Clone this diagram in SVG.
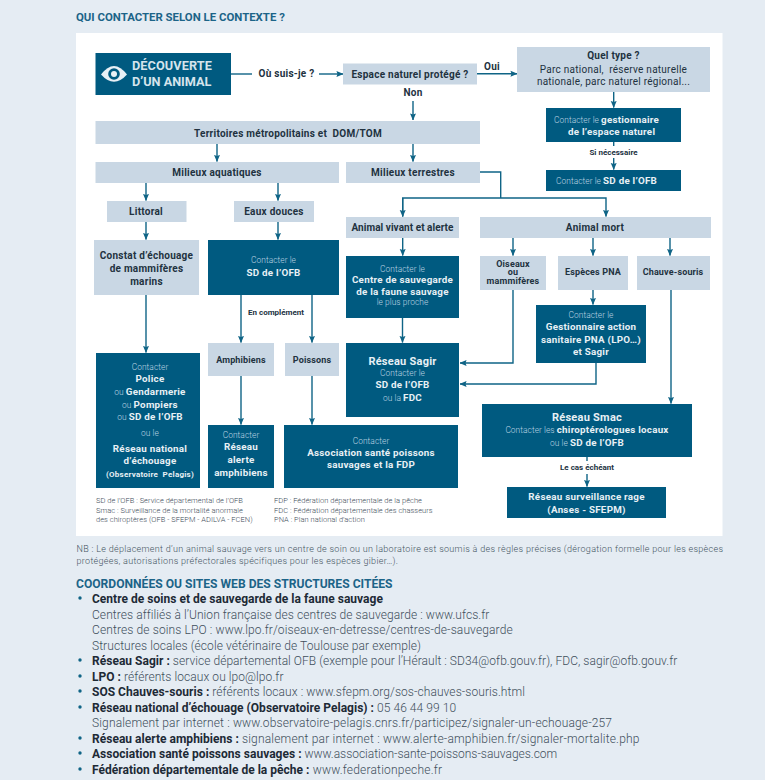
<svg xmlns="http://www.w3.org/2000/svg" width="765" height="780" viewBox="0 0 765 780">
<defs>
<marker id="ah" viewBox="0 0 8 8" refX="7.5" refY="4" markerWidth="7" markerHeight="7" markerUnits="userSpaceOnUse" orient="auto"><path d="M0 0.6 L8 4 L0 7.4 L1.2 4 Z" fill="#0f6486"/></marker>
</defs>
<style>
text{font-family:"Roboto","Liberation Sans",sans-serif;white-space:pre}
.d{fill:#005a80}.l{fill:#c9d7e4}
.c{fill:none;stroke:#0f6486;stroke-width:1.4}
.a{marker-end:url(#ah)}
.m{text-anchor:middle}
.k{font-weight:700;font-size:10px;fill:#22323f;letter-spacing:.25px}
.n{font-weight:700;font-size:9px;fill:#22323f;letter-spacing:.15px}
.r{font-weight:400}
.w{font-weight:700;font-size:9.800px;fill:#e8f0f5;letter-spacing:.25px}
.t{font-weight:300;font-size:8.400px;fill:#bcd3e0;letter-spacing:.05px}
.g{font-size:11px}
.s{font-weight:700;font-size:8px;fill:#22323f}
.f{font-weight:300;font-size:7.500px;fill:#3d4b57;letter-spacing:.03px}
.nb{font-size:9px;font-weight:300;fill:#44545f;letter-spacing:.3px}
.b{font-size:12px;fill:#3f4f5c;font-weight:300;letter-spacing:.07px}
.b tspan{font-weight:700;fill:#1d2a36;letter-spacing:.02px}
.h{font-weight:700;fill:#1c6488}
.e{font-size:12.700px;font-weight:700;fill:#d5e4ec}
</style>
<rect width="765" height="780" fill="#e5ecf3"/>
<rect x="76" y="33" width="646.500" height="503" fill="#ffffff"/>
<text class="h" x="76" y="21" font-size="11.400">QUI CONTACTER SELON LE CONTEXTE ?</text>

<g id="connectors">
<path class="c" d="M231 74H252"/>
<path class="c a" d="M319 74H343"/>
<path class="c a" d="M477 73.700H517"/>
<path class="c a" d="M413 101V120"/>
<path class="c a" d="M217 144V161.500"/>
<path class="c a" d="M413 144V161.500"/>
<path class="c a" d="M146 183V200.500"/>
<path class="c a" d="M278 183V200.500"/>
<path class="c a" d="M146 222V239.500"/>
<path class="c a" d="M278 222V239.500"/>
<path class="c" d="M480 172H500.700V198"/>
<path class="c a" d="M402.700 216.500V198H606V216.500"/>
<path class="c a" d="M402.700 198V216.500"/>
<path class="c a" d="M402.700 238V255.500"/>
<path class="c a" d="M513 238V255.500"/>
<path class="c a" d="M593 238V255.500"/>
<path class="c a" d="M670 238V255.500"/>
<path class="c a" d="M402.500 318V342.500"/>
<path class="c a" d="M513 290V363H460"/>
<path class="c a" d="M593 290V304.500"/>
<path class="c a" d="M596 363V384H460"/>
<path class="c a" d="M671 290V403.500"/>
<path class="c" d="M587 457V461"/>
<path class="c a" d="M587 474V486.500"/>
<path class="c a" d="M146 295V352.500"/>
<path class="c a" d="M241 295V342.500"/>
<path class="c a" d="M312 295V342.500"/>
<path class="c a" d="M241 376V424.500"/>
<path class="c a" d="M312 376V424.500"/>
<path class="c a" d="M613.700 92V107.500"/>
<path class="c" d="M613.700 142V146"/>
<path class="c a" d="M613.700 158V169.500"/>
</g>

<g id="decouverte"><rect class="d" x="95.500" y="53" width="135.500" height="42"/>
<path d="M101 74.500Q114 57.500 127 74.500Q114 89 101 74.500Z" fill="#e8f0f5"/><circle cx="114" cy="74" r="5.800" fill="#005a80"/><circle cx="114" cy="74" r="3" fill="#e8f0f5"/>
<text class="e" x="132" y="70" letter-spacing=".1">DÉCOUVERTE</text><text class="e" x="132" y="85.500">D’UN ANIMAL</text></g>
<text class="k" x="286.500" y="77" text-anchor="middle">Où suis-je ?</text>
<g id="espace"><rect class="l" x="343" y="63.500" width="134" height="21"/><text class="k m" x="410" y="78">Espace naturel protégé ?</text></g>
<text class="k m" x="492" y="70">Oui</text><text class="k m" x="413" y="96">Non</text>
<g id="quel-type"><rect class="l" x="517" y="47" width="193" height="45"/><text class="k m" x="613.500" y="59">Quel type ?</text><text class="k r m" x="613.500" y="73">Parc national,  réserve naturelle</text><text class="k r m" x="613.500" y="85">nationale, parc naturel régional...</text></g>
<g id="gestionnaire-espace"><rect class="d" x="546" y="108" width="135" height="34"/><text class="w" x="554" y="123"><tspan class="t">Contacter le </tspan>gestionnaire</text><text class="w" x="568" y="135">de l’espace naturel</text></g>
<text class="s m" x="613.500" y="155">Si nécessaire</text>
<g id="contacter-sd"><rect class="d" x="546" y="170" width="135" height="21"/><text class="w" x="556" y="184"><tspan class="t">Contacter le </tspan>SD de l’OFB</text></g>
<g id="territoires"><rect class="l" x="95.500" y="121" width="384.500" height="23"/><text class="k m" x="288" y="136.500">Territoires métropolitains et  DOM/TOM</text></g>
<g id="aquatiques"><rect class="l" x="95.500" y="162" width="243.500" height="21"/><text class="k m" x="217" y="176">Milieux aquatiques</text></g>
<g id="terrestres"><rect class="l" x="346" y="162" width="134" height="21"/><text class="k m" x="413" y="176">Milieux terrestres</text></g>
<g id="littoral"><rect class="l" x="107" y="201" width="79.500" height="21"/><text class="k m" x="146" y="215">Littoral</text></g>
<g id="eaux-douces"><rect class="l" x="234" y="201" width="80" height="21"/><text class="k m" x="274" y="215">Eaux douces</text></g>
<g id="constat"><rect class="l" x="94" y="240" width="105" height="55"/><text class="k m" x="146.500" y="259">Constat d’échouage</text><text class="k m" x="146.500" y="272">de mammifères</text><text class="k m" x="146.500" y="285">marins</text></g>
<g id="sd-ofb"><rect class="d" x="208" y="240" width="131" height="55"/><text class="t m" x="273.500" y="263">Contacter le</text><text class="w m" x="273.500" y="276">SD de l’OFB</text></g>
<text class="s m" x="276" y="315">En complément</text>
<g id="amphibiens"><rect class="l" x="208" y="343" width="66" height="33"/><text class="n m" x="241" y="363">Amphibiens</text></g>
<g id="poissons"><rect class="l" x="285" y="343" width="54" height="33"/><text class="n m" x="312" y="363">Poissons</text></g>
<g id="police"><rect class="d" x="96" y="353" width="104" height="135"/>
<text class="t m" x="150" y="370">Contacter</text><text class="w m" x="150" y="382">Police</text><text class="w m" x="150" y="395"><tspan class="t">ou </tspan>Gendarmerie</text><text class="w m" x="150" y="408"><tspan class="t">ou </tspan>Pompiers</text><text class="w m" x="150" y="420"><tspan class="t">ou </tspan>SD de l’OFB</text><text class="t m" x="150" y="436">ou le</text><text class="w m" x="150" y="452">Réseau national</text><text class="w m" x="150" y="464">d’échouage</text><text class="w m" x="150" y="477" style="font-size:8px">(Observatoire  Pelagis)</text></g>
<g id="reseau-alerte"><rect class="d" x="208" y="425" width="66" height="63"/><text class="t m" x="241" y="438">Contacter</text><text class="w m" x="241" y="450">Réseau</text><text class="w m" x="241" y="463">alerte</text><text class="w m" x="241" y="476">amphibiens</text></g>
<g id="association"><rect class="d" x="284" y="425" width="174" height="63"/><text class="t m" x="371" y="444">Contacter</text><text class="w m" x="371" y="456">Association santé poissons</text><text class="w m" x="371" y="468">sauvages et la FDP</text></g>
<g id="animal-vivant"><rect class="l" x="346" y="217" width="113" height="21"/><text class="k m" x="402.500" y="231" style="letter-spacing:.05px">Animal vivant et alerte</text></g>
<g id="centre"><rect class="d" x="346" y="256" width="113" height="62"/><text class="t m" x="402.500" y="271.500">Contacter le</text><text class="w m" x="402.500" y="283">Centre de sauvegarde</text><text class="w m" x="402.500" y="294.500">de la faune sauvage</text><text class="t m" x="402.500" y="304.500">le plus proche</text></g>
<g id="sagir"><rect class="d" x="346" y="343" width="113" height="74"/><text class="w g m" x="402.500" y="365">Réseau Sagir</text><text class="t m" x="402.500" y="376">Contacter le</text><text class="w m" x="402.500" y="388">SD de l’OFB</text><text class="w m" x="402.500" y="401"><tspan class="t">ou la </tspan>FDC</text></g>
<g id="animal-mort"><rect class="l" x="480" y="217" width="231" height="21"/><text class="k m" x="595" y="231">Animal mort</text></g>
<g id="oiseaux"><rect class="l" x="480" y="256" width="66" height="34"/><text class="n m" x="513" y="266.500">Oiseaux</text><text class="n m" x="513" y="275">ou</text><text class="n m" x="513" y="284">mammifères</text></g>
<g id="especes-pna"><rect class="l" x="558" y="256" width="70" height="34"/><text class="n m" x="593" y="275">Espèces PNA</text></g>
<g id="chauve-souris"><rect class="l" x="637" y="256" width="73" height="34"/><text class="n m" x="673" y="275">Chauve-souris</text></g>
<g id="gestionnaire-pna"><rect class="d" x="536" y="305" width="110" height="58"/><text class="t m" x="591" y="318">Contacter le</text><text class="w m" x="591" y="330">Gestionnaire action</text><text class="w m" x="591" y="343">sanitaire PNA (LPO…)</text><text class="w m" x="591" y="355">et Sagir</text></g>
<g id="smac"><rect class="d" x="482" y="404" width="210" height="53"/><text class="w g m" x="587" y="421">Réseau Smac</text><text class="w m" x="587" y="433"><tspan class="t">Contacter les </tspan>chiroptérologues locaux</text><text class="w m" x="587" y="446"><tspan class="t">ou le </tspan>SD de l’OFB</text></g>
<text class="s m" x="587" y="470">Le cas échéant</text>
<g id="rage"><rect class="d" x="507" y="487" width="159" height="31"/><text class="w m" x="586.500" y="500">Réseau surveillance rage</text><text class="w m" x="586.500" y="513">(Anses - SFEPM)</text></g>

<text class="f" x="96" y="503">SD de l’OFB : Service départemental de l’OFB</text>
<text class="f" x="96" y="513">Smac : Surveillance de la mortalité anormale</text>
<text class="f" x="96" y="522">des chiroptères (OFB - SFEPM - ADILVA - FCEN)</text>
<text class="f" x="274" y="503">FDP : Fédération départementale de la pêche</text>
<text class="f" x="274" y="513">FDC : Fédération départementale des chasseurs</text>
<text class="f" x="274" y="522">PNA : Plan national d’action</text>

<text class="nb" x="76.500" y="552">NB : Le déplacement d’un animal sauvage vers un centre de soin ou un laboratoire est soumis à des règles précises (dérogation formelle pour les espèces</text>
<text class="nb" x="76.500" y="564">protégées, autorisations préfectorales spécifiques pour les espèces gibier…).</text>
<text class="h" x="76" y="587.500" font-size="12.100">COORDONNÉES OU SITES WEB DES STRUCTURES CITÉES</text>
<g fill="#0f6486"><circle cx="80" cy="598" r="1.700"/><circle cx="80" cy="660" r="1.700"/><circle cx="80" cy="676" r="1.700"/><circle cx="80" cy="691" r="1.700"/><circle cx="80" cy="707" r="1.700"/><circle cx="80" cy="738" r="1.700"/><circle cx="80" cy="753" r="1.700"/><circle cx="80" cy="769" r="1.700"/></g>
<text class="b" x="92" y="603"><tspan>Centre de soins et de sauvegarde de la faune sauvage</tspan></text>
<text class="b" x="92" y="618.600">Centres affiliés à l’Union française des centres de sauvegarde : www.ufcs.fr</text>
<text class="b" x="92" y="634" style="letter-spacing:.12px">Centres de soins LPO : www.lpo.fr/oiseaux-en-detresse/centres-de-sauvegarde</text>
<text class="b" x="92" y="649.500">Structures locales (école vétérinaire de Toulouse par exemple)</text>
<text class="b" x="92" y="665" style="letter-spacing:.05px"><tspan>Réseau Sagir :</tspan> service départemental OFB (exemple pour l’Hérault : SD34@ofb.gouv.fr), FDC, sagir@ofb.gouv.fr</text>
<text class="b" x="92" y="680.500"><tspan>LPO :</tspan> référents locaux ou lpo@lpo.fr</text>
<text class="b" x="92" y="696"><tspan>SOS Chauves-souris :</tspan> référents locaux : www.sfepm.org/sos-chauves-souris.html</text>
<text class="b" x="92" y="711.500"><tspan>Réseau national d’échouage (Observatoire Pelagis) :</tspan> 05 46 44 99 10</text>
<text class="b" x="92" y="727" style="letter-spacing:.14px">Signalement par internet : www.observatoire-pelagis.cnrs.fr/participez/signaler-un-echouage-257</text>
<text class="b" x="92" y="742.500" style="letter-spacing:.18px"><tspan>Réseau alerte amphibiens :</tspan> signalement par internet : www.alerte-amphibien.fr/signaler-mortalite.php</text>
<text class="b" x="92" y="758" style="letter-spacing:-.02px"><tspan>Association santé poissons sauvages :</tspan> www.association-sante-poissons-sauvages.com</text>
<text class="b" x="92" y="773.500" style="letter-spacing:.2px"><tspan>Fédération départementale de la pêche :</tspan> www.federationpeche.fr</text>
</svg>
